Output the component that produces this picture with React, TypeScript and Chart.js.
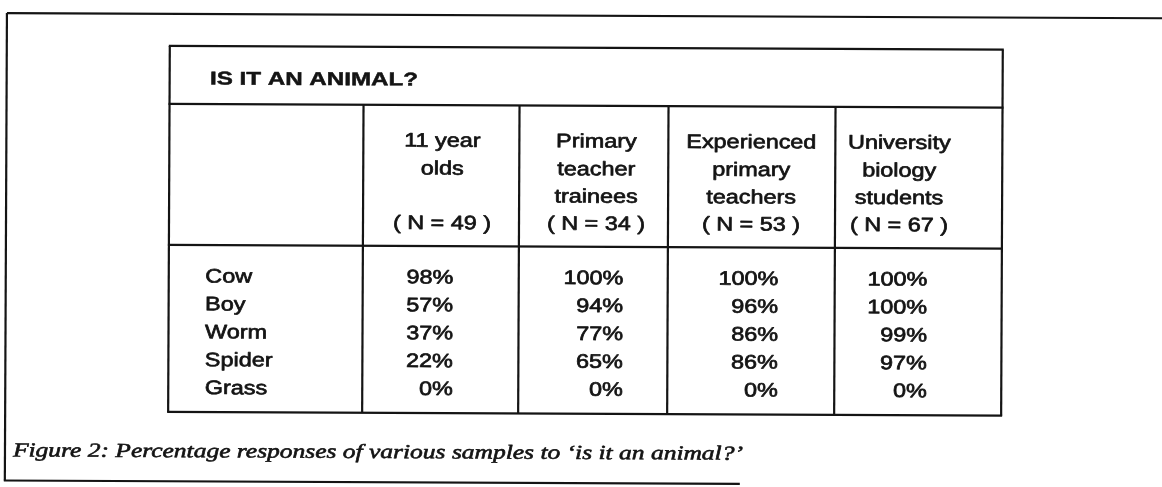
import React, { useEffect, useRef } from "react";
import { Chart, registerables } from "chart.js";

Chart.register(...registerables);

// ---------- data ----------
const TITLE = "IS IT AN ANIMAL?";
const ITEMS = ["Cow", "Boy", "Worm", "Spider", "Grass"];
const GROUP_LINES = [
  ["11 year", "olds"],
  ["Primary", "teacher", "trainees"],
  ["Experienced", "primary", "teachers"],
  ["University", "biology", "students"],
];
const GROUP_N = [49, 34, 53, 67];
const ELEVEN_YEAR_OLDS = [98, 57, 37, 22, 0];
const PRIMARY_TRAINEES = [100, 94, 77, 65, 0];
const EXPERIENCED_TEACHERS = [100, 96, 86, 86, 0];
const UNIVERSITY_STUDENTS = [100, 100, 99, 97, 0];
const SERIES = [ELEVEN_YEAR_OLDS, PRIMARY_TRAINEES, EXPERIENCED_TEACHERS, UNIVERSITY_STUDENTS];
const CAPTION = "Figure 2: Percentage responses of various samples to \u2018is it an animal?\u2019";

// ---------- layout (page units, mapped through the chart scales) ----------
const W = 1162;
const H = 487;
const SKEW = 0.0045; // slight rotation of the scanned page
const FRAME = { left: 7, top: 13, right: 1162, bottom: 480.5, bottomEnd: 742 };
const COL_EDGES = [170, 364, 520, 669, 836, 1003];
const ROW_EDGES = [45.2, 103.2, 244.2, 411.2];
const TITLE_POS = { x: 210.4, y: 83.6, width: 208 };
const HEADER_CENTERS = [443, 597, 752, 900];
const HEADER_BASELINES = [144.8, 172.6, 200, 227.2];
const LABEL_X = 206.5;
const VALUE_RIGHT = [454.5, 624.5, 779.5, 928.5];
const ROW_BASE = 281.5;
const ROW_STEP = 27.9;
const CAPTION_POS = { x: 15, y: 456.4, width: 730 };
const INK = "#141414";
const SANS = '"Liberation Sans", Arial, Helvetica, sans-serif';
const SERIF = '"Liberation Serif", "Times New Roman", serif';
const BODY_SCALE = 1.2;

const tablePlugin = {
  id: "tablePlugin",
  afterDraw(chart: any) {
    const ctx: CanvasRenderingContext2D = chart.ctx;
    const xs = chart.scales.x;
    const ys = chart.scales.y;
    const px = (v: number) => xs.getPixelForValue(v);
    const py = (v: number) => ys.getPixelForValue(v);

    const line = (x1: number, y1: number, x2: number, y2: number, w = 2.2) => {
      ctx.beginPath();
      ctx.lineWidth = w;
      ctx.strokeStyle = INK;
      ctx.moveTo(px(x1), py(y1));
      ctx.lineTo(px(x2), py(y2));
      ctx.stroke();
    };
    const text = (
      s: string,
      x: number,
      y: number,
      align: CanvasTextAlign,
      font: string,
      sx: number,
      weight: number
    ) => {
      ctx.save();
      ctx.font = font;
      ctx.fillStyle = INK;
      ctx.strokeStyle = INK;
      ctx.lineWidth = weight;
      ctx.lineJoin = "round";
      ctx.textAlign = align;
      ctx.textBaseline = "alphabetic";
      ctx.translate(px(x), py(y));
      ctx.scale(sx, 1);
      ctx.fillText(s, 0, 0);
      if (weight > 0) ctx.strokeText(s, 0, 0);
      ctx.restore();
    };

    ctx.save();
    ctx.fillStyle = "#ffffff";
    ctx.fillRect(0, 0, chart.width, chart.height);
    ctx.rotate(SKEW);

    // outer frame
    line(FRAME.left, FRAME.top, FRAME.right + 10, FRAME.top);
    line(FRAME.left, FRAME.top, FRAME.left, FRAME.bottom);
    line(FRAME.left - 1, FRAME.bottom, FRAME.bottomEnd, FRAME.bottom);

    // table box
    const L = COL_EDGES[0];
    const R = COL_EDGES[COL_EDGES.length - 1];
    ROW_EDGES.forEach((y) => line(L - 1, y, R + 1, y));
    line(L, ROW_EDGES[0], L, ROW_EDGES[3]);
    line(R, ROW_EDGES[0], R, ROW_EDGES[3]);
    for (let i = 1; i < COL_EDGES.length - 1; i++) {
      line(COL_EDGES[i], ROW_EDGES[1], COL_EDGES[i], ROW_EDGES[3]);
    }

    // title
    const titleFont = `bold 18.5px ${SANS}`;
    ctx.font = titleFont;
    const tw = ctx.measureText(TITLE).width;
    text(TITLE, TITLE_POS.x, TITLE_POS.y, "left", titleFont, TITLE_POS.width / tw, 0.5);

    // headers
    const bodyFont = `19.5px ${SANS}`;
    GROUP_LINES.forEach((lines, g) => {
      lines.forEach((s, k) => {
        text(s, HEADER_CENTERS[g], HEADER_BASELINES[k], "center", bodyFont, BODY_SCALE, 0.7);
      });
      text(`( N = ${GROUP_N[g]} )`, HEADER_CENTERS[g], HEADER_BASELINES[3], "center", bodyFont, BODY_SCALE, 0.7);
    });

    // body
    ITEMS.forEach((item, r) => {
      const y = ROW_BASE + r * ROW_STEP;
      text(item, LABEL_X, y, "left", bodyFont, BODY_SCALE, 0.7);
      SERIES.forEach((vals, g) => {
        text(`${vals[r]}%`, VALUE_RIGHT[g], y, "right", bodyFont, BODY_SCALE, 0.7);
      });
    });

    // caption
    const capFont = `italic 20px ${SERIF}`;
    ctx.font = capFont;
    const cw = ctx.measureText(CAPTION).width;
    text(CAPTION, CAPTION_POS.x, CAPTION_POS.y, "left", capFont, CAPTION_POS.width / cw, 0.6);

    ctx.restore();
  },
};

export default function App() {
  const ref = useRef<HTMLCanvasElement | null>(null);

  useEffect(() => {
    if (!ref.current) return;
    const chart = new Chart(ref.current, {
      type: "scatter",
      data: { datasets: [] },
      options: {
        animation: false,
        responsive: false,
        maintainAspectRatio: false,
        devicePixelRatio: 1,
        layout: { padding: 0 },
        plugins: { legend: { display: false }, tooltip: { enabled: false } },
        scales: {
          x: { type: "linear", min: 0, max: W, display: false },
          y: { type: "linear", min: 0, max: H, reverse: true, display: false },
        },
      },
      plugins: [tablePlugin],
    });
    return () => chart.destroy();
  }, []);

  return (
    <div style={{ position: "fixed", left: 0, top: 0, width: W, height: H, background: "#fff" }}>
      <canvas ref={ref} width={W} height={H} style={{ display: "block" }} />
    </div>
  );
}
